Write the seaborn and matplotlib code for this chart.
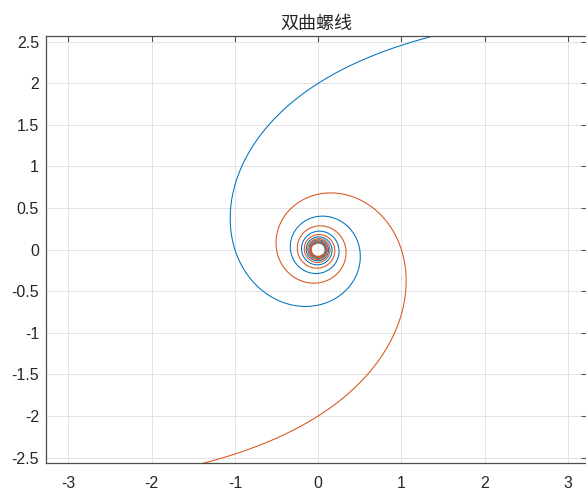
import numpy as np
import pandas as pd
import matplotlib
matplotlib.use("Agg")
import matplotlib.pyplot as plt
import seaborn as sns

# Hyperbolic spiral r = a / theta (two branches, rotated by 180 deg)
title_text = "双曲螺线"
a_coef = np.pi
theta_start = 0.2
theta_end = 40.0
n_points = 20000
x_ticks = [-3, -2, -1, 0, 1, 2, 3]
y_ticks = [-2.5, -2, -1.5, -1, -0.5, 0, 0.5, 1, 1.5, 2, 2.5]
y_tick_labels = ["-2.5", "-2", "-1.5", "-1", "-0.5", "0", "0.5", "1", "1.5", "2", "2.5"]
x_tick_labels = ["-3", "-2", "-1", "0", "1", "2", "3"]
series_names = ["branch1", "branch2"]
series_colors = ["#0072BD", "#D95319"]

theta = np.linspace(theta_start, theta_end, n_points)
r = a_coef / theta
x1 = r * np.cos(theta)
y1 = r * np.sin(theta)
x2 = -x1
y2 = -y1

sns.set_theme(style="white")
plt.rcParams['font.family'] = ['Liberation Sans', 'DejaVu Sans']

fig = plt.figure(figsize=(5.86, 4.92), dpi=100)
ax = fig.add_axes([46 / 586, 1 - 463 / 492, (587 - 46) / 586, (463 - 35.5) / 492])

for xs, ys, col in [(x1, y1, series_colors[0]), (x2, y2, series_colors[1])]:
    df = pd.DataFrame({"x": xs, "y": ys})
    sns.lineplot(data=df, x="x", y="y", sort=False, estimator=None, color=col,
                 linewidth=0.75, ax=ax)

ax.set_xlim(-3.27, 3.23)
ax.set_ylim(-2.565, 2.575)
ax.set_xticks(x_ticks)
ax.set_xticklabels(x_tick_labels)
ax.set_yticks(y_ticks)
ax.set_yticklabels(y_tick_labels)
ax.set_xlabel("")
ax.set_ylabel("")
ax.grid(True, color="#e3e3e3", linewidth=0.7)
ax.set_axisbelow(True)
for s in ax.spines.values():
    s.set_color("#4d4d4d")
    s.set_linewidth(0.9)
ax.tick_params(direction="in", length=4, width=0.8, color="#4d4d4d",
               top=True, right=True, labelsize=11.5, labelcolor="#262626")
ax.tick_params(axis="x", pad=9)
ax.tick_params(axis="y", pad=5)
ax.set_title(title_text, fontsize=13, color="#262626", pad=5,
             family=['Noto Sans CJK SC', 'DejaVu Sans'])

fig.savefig("out.png", dpi=100)
